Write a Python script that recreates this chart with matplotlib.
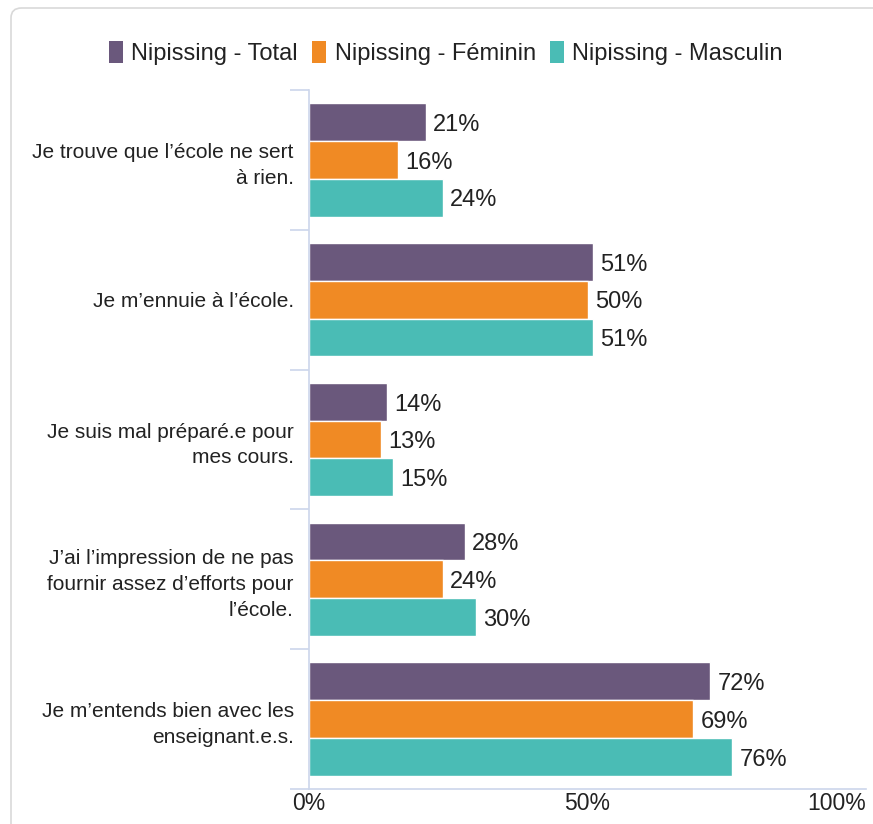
import matplotlib
matplotlib.use("Agg")
import matplotlib.pyplot as plt
import numpy as np
from matplotlib.patches import FancyBboxPatch, Rectangle

plt.rcParams["font.family"] = ["Liberation Sans", "DejaVu Sans"]

categories = [
    "Je trouve que l\u2019école ne sert\nà rien.",
    "Je m\u2019ennuie à l\u2019école.",
    "Je suis mal préparé.e pour\nmes cours.",
    "J\u2019ai l\u2019impression de ne pas\nfournir assez d\u2019efforts pour\nl\u2019école.",
    "Je m\u2019entends bien avec les\nenseignant.e.s.",
]
series_names = ["Nipissing - Total", "Nipissing - Féminin", "Nipissing - Masculin"]
total = [21, 51, 14, 28, 72]
feminin = [16, 50, 13, 24, 69]
masculin = [24, 51, 15, 30, 76]
x_ticks = [0, 50, 100]
x_tick_labels = ["0%", "50%", "100%"]

colors = ["#6A587C", "#F08A24", "#4ABCB5"]
axis_color = "#CCD6EB"
text_color = "#222222"

W, H = 873, 824
fig = plt.figure(figsize=(W / 100, H / 100), dpi=100)

# card border (rounded, runs off the right/bottom edge)
card = FancyBboxPatch((11 / W, -20 / H), (W + 40) / W, (H - 8 + 20) / H,
                      boxstyle="round,pad=0,rounding_size=0.012",
                      transform=fig.transFigure, facecolor="white",
                      edgecolor="#D9D9D9", linewidth=1.2, zorder=-5)
fig.add_artist(card)

ax = fig.add_axes([309 / W, 1 - 789 / H, (866 - 309) / W, (789 - 90) / H])
ax.set_facecolor("none")
ax.set_zorder(2)

y = np.arange(len(categories))
h = 0.27
for vals, off, c in zip([total, feminin, masculin], [-h, 0, h], colors):
    bars = ax.barh(y + off, vals, height=h, color=c, edgecolor="white",
                   linewidth=1, zorder=2)
    for b, v in zip(bars, vals):
        ax.text(b.get_width() + 1.3, b.get_y() + b.get_height() / 2 + 0.02,
                f"{v}%", va="center", ha="left", fontsize=17, color=text_color)

ax.set_xlim(0, 100)
ax.set_ylim(len(categories) - 0.5, -0.5)

for s in ["top", "right"]:
    ax.spines[s].set_visible(False)
ax.spines["left"].set_color(axis_color)
ax.spines["bottom"].set_color(axis_color)
ax.spines["left"].set_linewidth(1.2)
ax.spines["bottom"].set_linewidth(1.2)

# category labels
ax.set_yticks(y)
ax.set_yticklabels(categories, fontsize=15, color=text_color,
                   linespacing=1.45, multialignment="right")
ax.tick_params(axis="y", length=0, pad=11)
# boundary ticks between categories
ax.set_yticks(np.arange(-0.5, len(categories) + 0.5, 1), minor=True)
ax.tick_params(axis="y", which="minor", length=14, color=axis_color, width=1.2)

ax.set_xticks(x_ticks)
ax.set_xticklabels(x_tick_labels, fontsize=16.5, color=text_color)
ax.tick_params(axis="x", length=0, pad=2)
ax.get_xticklabels()[-1].set_ha("right")

# legend
handles = [Rectangle((0, 0), 1, 1, facecolor=c, edgecolor="none") for c in colors]
leg = fig.legend(handles, series_names, loc="center", ncol=3,
                 bbox_to_anchor=(446 / W, 1 - 53 / H), frameon=False,
                 fontsize=17, handlelength=0.6, handleheight=1.1,
                 handletextpad=0.35, columnspacing=0.6, labelcolor=text_color)

fig.savefig("out.png", dpi=100)
